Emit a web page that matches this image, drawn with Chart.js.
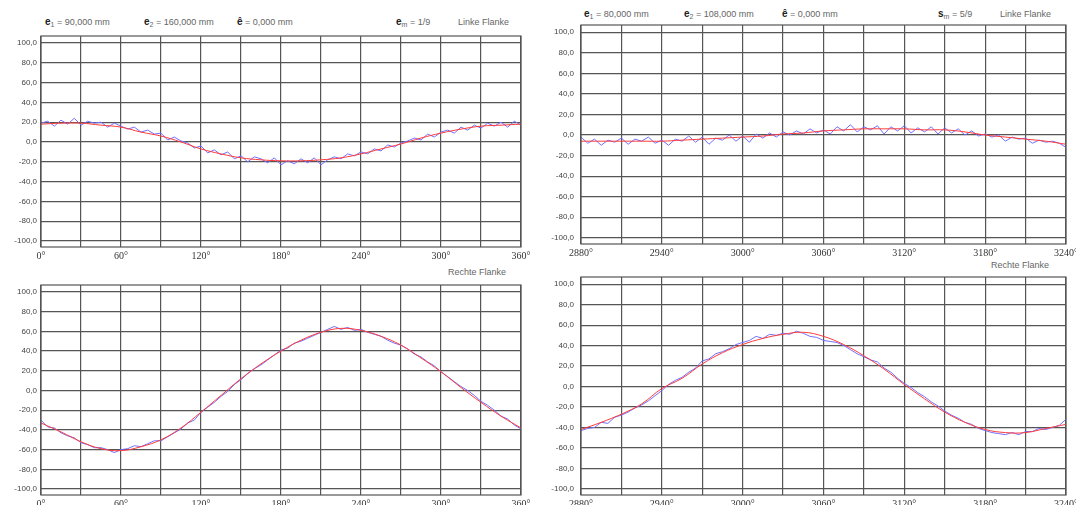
<!DOCTYPE html>
<html>
<head>
<meta charset="utf-8">
<script src="https://cdn.jsdelivr.net/npm/chart.js@4.4.0/dist/chart.umd.min.js"></script>
<style>
html, body { margin: 0; padding: 0; background: #fff; overflow: hidden; width: 1076px; height: 505px; }
.panel { position: absolute; }
.hdr { position: absolute; font: 9px "Liberation Sans", Arial, sans-serif; color: #666; white-space: nowrap; line-height: 10px; }
.hdr b { font-weight: bold; color: #222; font-size: 10px; }
.hdr sub { font-size: 7px; vertical-align: -2px; }
</style>
</head>
<body>

<div class="hdr" style="left:45px;top:17px"><b>e</b><sub>1</sub> = 90,000 mm</div>
<div class="hdr" style="left:144px;top:17px"><b>e</b><sub>2</sub> = 160,000 mm</div>
<div class="hdr" style="left:237px;top:17px"><b>ê</b> = 0,000 mm</div>
<div class="hdr" style="left:396px;top:17px"><b>e</b><sub>m</sub> = 1/9</div>
<div class="hdr" style="left:458px;top:17px">Linke Flanke</div>

<div class="hdr" style="left:584px;top:9px"><b>e</b><sub>1</sub> = 80,000 mm</div>
<div class="hdr" style="left:684px;top:9px"><b>e</b><sub>2</sub> = 108,000 mm</div>
<div class="hdr" style="left:782px;top:9px"><b>ê</b> = 0,000 mm</div>
<div class="hdr" style="left:938px;top:9px"><b>s</b><sub>m</sub> = 5/9</div>
<div class="hdr" style="left:1000px;top:9px">Linke Flanke</div>

<div class="hdr" style="left:448px;top:267px">Rechte Flanke</div>
<div class="hdr" style="left:991px;top:260px">Rechte Flanke</div>

<div class="panel" style="left:0;top:0;width:537px;height:262px"><canvas id="chartTL"></canvas></div>
<div class="panel" style="left:540px;top:0;width:542px;height:259px"><canvas id="chartTR"></canvas></div>
<div class="panel" style="left:0;top:250px;width:537px;height:260px"><canvas id="chartBL"></canvas></div>
<div class="panel" style="left:540px;top:250px;width:542px;height:260px"><canvas id="chartBR"></canvas></div>

<script>
// angle positions (degrees)
const degLeftFine = [0,5,10,15,20,25,30,35,40,45,50,55,60,65,70,75,80,85,90,95,100,105,110,115,120,125,130,135,140,145,150,155,160,165,170,175,180,185,190,195,200,205,210,215,220,225,230,235,240,245,250,255,260,265,270,275,280,285,290,295,300,305,310,315,320,325,330,335,340,345,350,355,360];
const degLeftCoarse = [0,15,30,45,60,75,90,105,120,135,150,165,180,195,210,225,240,255,270,285,300,315,330,345,360];
const degRightFine = [2880,2885,2890,2895,2900,2905,2910,2915,2920,2925,2930,2935,2940,2945,2950,2955,2960,2965,2970,2975,2980,2985,2990,2995,3000,3005,3010,3015,3020,3025,3030,3035,3040,3045,3050,3055,3060,3065,3070,3075,3080,3085,3090,3095,3100,3105,3110,3115,3120,3125,3130,3135,3140,3145,3150,3155,3160,3165,3170,3175,3180,3185,3190,3195,3200,3205,3210,3215,3220,3225,3230,3235,3240];
const degRightCoarse = [2880,2895,2910,2925,2940,2955,2970,2985,3000,3015,3030,3045,3060,3075,3090,3105,3120,3135,3150,3165,3180,3195,3210,3225,3240];

const yTickValues = [-100,-80,-60,-40,-20,0,20,40,60,80,100];

// Linke Flanke, 0..360
const tlMeasured = [19,21,16,22,18,24,17,21,19,20,15,19,16,13,15,10,12,8,9,2,5,1,-1,-6,-4,-11,-8,-13,-10,-17,-14,-20,-15,-17,-21,-16,-23,-19,-22,-17,-21,-16,-23,-18,-15,-17,-12,-14,-10,-12,-7,-9,-3,-5,-1,1,4,2,8,5,10,12,9,15,12,17,14,19,16,20,15,21,17];
const tlMean = [18,19,19,17,15,10,6,0,-7,-12,-16,-18,-19,-19,-18,-16,-12,-7,-2,4,9,13,16,17,18];

// Linke Flanke, 2880..3240
const trMeasured = [-2,-8,-4,-10,-5,-7,-3,-9,-4,-6,-2,-8,-5,-10,-4,-6,-1,-7,-2,-9,-3,-5,0,-6,-1,-7,1,-3,2,-2,3,0,4,1,6,2,5,1,8,4,10,3,8,5,9,1,8,4,9,2,7,3,8,1,7,2,6,0,4,-1,1,-2,0,-6,-2,-4,-3,-8,-5,-7,-6,-8,-12];
const trMean = [-6,-6,-6,-6,-6,-5,-4,-3,-2,-1,1,2,4,5,6,6,6,5,5,3,0,-2,-4,-6,-9];

// Rechte Flanke, 0..360
const blMeasured = [-30,-37,-38,-43,-46,-48,-53,-55,-58,-58,-60,-63,-60,-59,-56,-57,-54,-51,-51,-47,-43,-39,-33,-30,-22,-17,-12,-6,-1,6,11,17,22,26,31,36,41,43,48,50,53,56,59,62,65,62,64,61,62,59,57,55,51,48,46,42,37,34,29,25,19,14,9,4,0,-5,-11,-15,-20,-26,-29,-35,-39];
const blMean = [-33,-42,-52,-59,-61,-57,-50,-38,-22,-5,12,27,40,51,59,63,61,55,46,33,19,3,-12,-26,-38];

// Rechte Flanke, 2880..3240
const brMeasured = [-43,-41,-40,-35,-36,-30,-28,-25,-21,-18,-14,-9,-4,2,6,9,14,18,25,27,32,34,37,41,43,45,49,47,51,50,52,51,54,52,49,48,45,44,43,40,36,32,29,26,24,18,14,8,3,-1,-6,-10,-15,-19,-24,-28,-31,-35,-37,-41,-43,-45,-46,-47,-45,-47,-44,-44,-41,-42,-40,-38,-32];
const brMean = [-42,-35,-27,-17,-2,8,22,33,41,47,51,53,49,41,30,17,2,-12,-25,-35,-42,-45,-45,-41,-37];

const frame = {
    id: 'frame',
    afterDraw(chart) {
        const a = chart.chartArea;
        const ctx = chart.ctx;
        ctx.save();
        ctx.strokeStyle = '#555';
        ctx.lineWidth = 1.2;
        ctx.strokeRect(a.left, a.top, a.right - a.left, a.bottom - a.top);
        ctx.restore();
    }
};

function pts(xs, ys) {
    return xs.map((x, i) => ({ x: x, y: ys[i] }));
}

function makeChart(id, xMin, xMax, xFine, measured, xCoarse, mean, padTop, labelPad) {
    new Chart(document.getElementById(id), {
        type: 'line',
        data: {
            datasets: [
                {
                    label: 'Mittel',
                    data: pts(xCoarse, mean),
                    borderColor: '#ff3b3b',
                    borderWidth: 1,
                    pointRadius: 0,
                    tension: 0.4
                },
                {
                    label: 'Messung',
                    data: pts(xFine, measured),
                    borderColor: '#7070ff',
                    borderWidth: 1,
                    pointRadius: 0,
                    tension: 0
                }
            ]
        },
        options: {
            responsive: true,
            maintainAspectRatio: false,
            animation: false,
            layout: { padding: { top: padTop, right: 16, left: 0, bottom: 0 } },
            plugins: { legend: { display: false }, tooltip: { enabled: false } },
            scales: {
                x: {
                    type: 'linear',
                    min: xMin,
                    max: xMax,
                    afterFit: function(s) { s.height = 15; },
                    grid: { color: '#555', lineWidth: 1.2, drawTicks: false },
                    border: { display: false },
                    ticks: {
                        stepSize: 30,
                        autoSkip: false,
                        maxRotation: 0,
                        padding: 3,
                        color: '#333',
                        font: { family: 'Liberation Serif', size: 10 },
                        callback: function(v) { return v % 60 === 0 ? v + '°' : ''; }
                    }
                },
                y: {
                    min: -106,
                    max: 107,
                    afterFit: function(s) { s.width = 41; },
                    afterBuildTicks: function(s) { s.ticks = yTickValues.map(v => ({ value: v })); },
                    grid: { color: '#555', lineWidth: 1.2, drawTicks: false },
                    border: { display: false },
                    ticks: {
                        padding: labelPad,
                        color: '#444',
                        font: { family: 'Liberation Sans', size: 8 },
                        callback: function(v) { return v.toFixed(1).replace('.', ','); }
                    }
                }
            }
        },
        plugins: [frame]
    });
}

makeChart('chartTL', 0, 360, degLeftFine, tlMeasured, degLeftCoarse, tlMean, 36, 4);
makeChart('chartTR', 2880, 3240, degRightFine, trMeasured, degRightCoarse, trMean, 25, 7);
makeChart('chartBL', 0, 360, degLeftFine, blMeasured, degLeftCoarse, blMean, 35, 4);
makeChart('chartBR', 2880, 3240, degRightFine, brMeasured, degRightCoarse, brMean, 27, 7);
</script>
</body>
</html>
